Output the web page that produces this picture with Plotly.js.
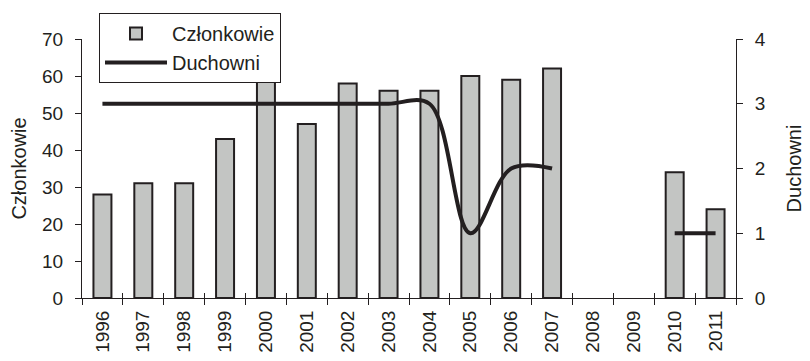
<!DOCTYPE html>
<html><head><meta charset="utf-8">
<script src="https://cdn.plot.ly/plotly-3.0.1.min.js"></script>
<style>html,body{margin:0;padding:0;background:#fff;}#chart{width:810px;height:361px;}</style>
</head><body><div id="chart"></div>
<script>
const years = ['1996','1997','1998','1999','2000','2001','2002','2003','2004','2005','2006','2007','2008','2009','2010','2011'];
const czlonkowie = [28,31,31,43,60,47,58,56,56,60,59,62,null,null,34,24];
const duchowni = [3,3,3,3,3,3,3,3,3,1,2,2,null,null,1,1];
const ink = '#231f20';

const traces = [
  {type:'bar', name:'Członkowie', x:years, y:czlonkowie, xaxis:'x', yaxis:'y',
   marker:{color:'#c3c5c3', line:{color:ink, width:2}}},
  {type:'scatter', mode:'lines', name:'Duchowni', x:years, y:duchowni, xaxis:'x2', yaxis:'y2',
   connectgaps:false, line:{color:ink, width:4, shape:'spline', smoothing:1}}
];
const ff = 'Liberation Sans, Arial, sans-serif';
const xr = [-0.5, years.length - 0.5];
const layout = {
  width:810, height:361,
  margin:{l:82, r:74, t:39, b:63},
  paper_bgcolor:'#fff', plot_bgcolor:'#fff',
  font:{family:ff, size:19, color:ink},
  bargap:0.56,
  showlegend:true,
  legend:{x:0.026, y:1.10, xanchor:'left', yanchor:'top', bgcolor:'#fff',
    bordercolor:ink, borderwidth:1, font:{family:ff, size:20, color:ink},
    tracegroupgap:0, itemwidth:62},
  xaxis:{type:'category', categoryorder:'array', categoryarray:years, range:xr,
    showline:true, linecolor:ink, linewidth:1, showgrid:false, zeroline:false,
    ticks:'outside', ticklen:6, tickcolor:ink, tickson:'boundaries',
    tickangle:-90, tickfont:{size:19, color:ink}, ticklabelstandoff:4},
  xaxis2:{type:'category', categoryorder:'array', categoryarray:years, overlaying:'x', range:xr,
    showline:false, showgrid:false, zeroline:false, showticklabels:false,
    ticks:'inside', ticklen:5, tickcolor:ink, tickson:'boundaries', side:'bottom'},
  yaxis:{range:[0,70], dtick:10, showline:true, linecolor:ink, linewidth:1,
    showgrid:false, zeroline:false, ticks:'outside', ticklen:6, tickcolor:ink,
    tickfont:{size:19, color:ink}, ticklabelstandoff:8,
    title:{text:'Członkowie', font:{size:20, color:ink}, standoff:10}},
  yaxis2:{range:[0,4], dtick:1, overlaying:'y', side:'right', showline:true,
    linecolor:ink, linewidth:1, showgrid:false, zeroline:false, ticks:'outside',
    ticklen:6, tickcolor:ink, tickfont:{size:19, color:ink}, ticklabelstandoff:8,
    title:{text:'Duchowni', font:{size:20, color:ink}, standoff:22}}
};
Plotly.newPlot('chart', traces, layout, {displayModeBar:false, staticPlot:true});
</script></body></html>
